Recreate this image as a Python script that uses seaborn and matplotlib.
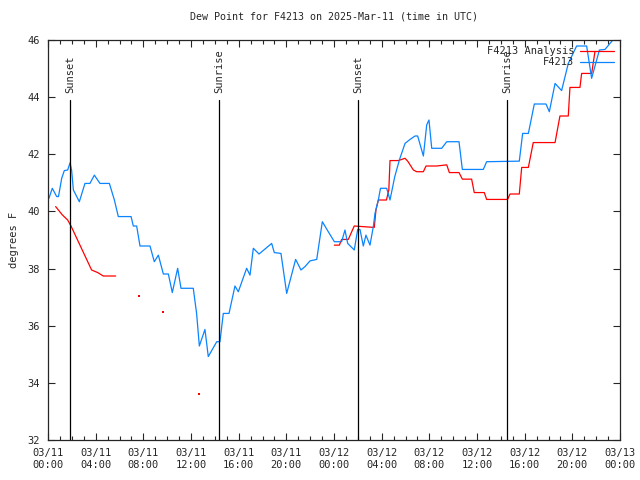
import matplotlib
matplotlib.use("Agg")
import matplotlib.pyplot as plt
import pandas as pd
import seaborn as sns
from matplotlib.ticker import MultipleLocator

# hours since 03/11 00:00 UTC, dew point in F
blue_h = [0.08, 0.36, 0.73, 0.88, 1.15, 1.37, 1.65, 1.85, 1.98, 2.13, 2.63, 3.1, 3.52, 3.89,
          4.36, 5.15, 5.57, 5.9, 6.97, 7.16, 7.44, 7.72, 8.56, 8.92, 9.26, 9.68, 10.1, 10.43,
          10.88, 11.16, 12.19, 12.47, 12.7, 13.17, 13.45, 14.16, 14.43, 14.71, 15.19, 15.69,
          15.97, 16.67, 16.95, 17.23, 17.71, 18.77, 18.99, 19.55, 20.03, 20.78, 21.23, 21.57,
          21.99, 22.55, 23.02, 23.52, 24.03, 24.64, 24.92, 25.15, 25.7, 25.99, 26.18, 26.46,
          26.68, 27.02, 27.3, 27.44, 27.58, 27.72, 27.9, 28.42, 28.7, 29.1, 29.5, 29.96,
          30.38, 30.8, 31.02, 31.5, 31.78, 31.97, 32.2, 33.04, 33.46, 34.49, 34.77, 36.53,
          36.81, 39.55, 39.83, 40.31, 40.81, 41.79, 42.07, 42.55, 43.1, 43.66, 44.36, 45.2,
          45.62, 46.27, 46.74, 47.44]
blue_v = [40.46, 40.81, 40.52, 40.52, 41.16, 41.43, 41.45, 41.7, 41.45, 40.75, 40.34, 40.98,
          40.98, 41.27, 40.98, 40.98, 40.4, 39.82, 39.82, 39.49, 39.49, 38.79, 38.79, 38.24,
          38.47, 37.81, 37.81, 37.16, 38.01, 37.31, 37.31, 36.43, 35.29, 35.87, 34.92, 35.44,
          35.44, 36.43, 36.43, 37.39, 37.19, 38.01, 37.77, 38.71, 38.51, 38.88, 38.56, 38.53,
          37.13, 38.32, 37.95, 38.07, 38.27, 38.32, 39.64, 39.29, 38.94, 38.94, 39.35, 38.88,
          38.65, 39.37, 39.37, 38.79, 39.17, 38.82, 39.47, 39.93, 40.17, 40.4, 40.81, 40.81,
          40.4, 41.22, 41.82, 42.38, 42.52, 42.64, 42.64, 41.94, 43.03, 43.2, 42.21, 42.21,
          42.44, 42.44, 41.47, 41.47, 41.74, 41.76, 42.73, 42.73, 43.76, 43.76, 43.49, 44.48,
          44.23, 45.18, 45.79, 45.79, 44.66, 45.65, 45.67, 46.02]

# analysis series has gaps, so it is kept in pieces
red1_h = [0.64, 1.2, 1.65, 1.93, 3.66, 4.17, 4.64, 5.68]
red1_v = [40.17, 39.88, 39.7, 39.49, 37.95, 37.86, 37.74, 37.74]
red_dot_h = [7.66, 9.68, 12.7]
red_dot_v = [37.04, 36.47, 33.6]
red2_h = [24.03, 24.45, 24.64, 25.2, 25.7, 27.38, 27.52, 27.72, 28.4, 28.6, 28.7, 29.4, 29.96,
          30.2, 30.66, 30.94, 31.5, 31.72, 32.61, 33.46, 33.68, 34.49, 34.77, 35.55, 35.77,
          36.61, 36.81, 38.57, 38.77, 39.55, 39.75, 40.31, 40.72, 42.55, 42.96, 43.66, 43.8,
          44.64, 44.78, 45.62, 45.9]
red2_v = [38.82, 38.82, 39.02, 39.02, 39.49, 39.44, 40.05, 40.4, 40.4, 40.75, 41.78, 41.78,
          41.86, 41.75, 41.45, 41.39, 41.39, 41.59, 41.59, 41.63, 41.36, 41.36, 41.13, 41.13,
          40.66, 40.66, 40.42, 40.42, 40.61, 40.61, 41.54, 41.54, 42.41, 42.41, 43.34, 43.34,
          44.34, 44.34, 44.83, 44.83, 45.6]

sun_h = [1.85, 14.35, 26.01, 38.52]
sun_labels = ["Sunset", "Sunrise", "Sunset", "Sunrise"]

tick_h = list(range(0, 49, 4))
tick_labels = ["03/11\n00:00", "03/11\n04:00", "03/11\n08:00", "03/11\n12:00", "03/11\n16:00",
               "03/11\n20:00", "03/12\n00:00", "03/12\n04:00", "03/12\n08:00", "03/12\n12:00",
               "03/12\n16:00", "03/12\n20:00", "03/13\n00:00"]

blue = pd.DataFrame({"hour": blue_h, "dewpt": blue_v})
red1 = pd.DataFrame({"hour": red1_h, "dewpt": red1_v})
red2 = pd.DataFrame({"hour": red2_h, "dewpt": red2_v})
dots = pd.DataFrame({"hour": red_dot_h, "dewpt": red_dot_v})

sns.set_style("ticks")
plt.rcParams["font.family"] = ["DejaVu Sans Mono"]
plt.rcParams["font.size"] = 7.5

fig = plt.figure(figsize=(6.4, 4.8), dpi=100)
ax = fig.add_axes([48 / 640, 40 / 480, 572 / 640, 400 / 480])

RED = "#ff0000"
BLUE = "#0a84ff"

sns.lineplot(data=red1, x="hour", y="dewpt", ax=ax, color=RED, lw=0.9, label="F4213 Analysis")
sns.lineplot(data=red2, x="hour", y="dewpt", ax=ax, color=RED, lw=0.9)
sns.scatterplot(data=dots, x="hour", y="dewpt", ax=ax, color=RED, s=2, marker="s",
                linewidth=0)
sns.lineplot(data=blue, x="hour", y="dewpt", ax=ax, color=BLUE, lw=0.9, label="F4213")

for h, lab in zip(sun_h, sun_labels):
    ax.plot([h, h], [32, 43.9], color="black", lw=0.9)
    ax.text(h + 0.05, 44.15, lab, rotation=90, ha="center", va="bottom", fontsize=7.5)

ax.set_xlim(0, 48)
ax.set_ylim(32, 46)
ax.set_xticks(tick_h)
ax.set_xticklabels(tick_labels)
ax.xaxis.set_minor_locator(MultipleLocator(1))
ax.set_yticks(range(32, 47, 2))
ax.tick_params(direction="in", top=True, right=True, length=5, width=0.8, pad=6)
ax.tick_params(which="minor", direction="in", top=True, bottom=True, length=3, width=0.8)
for s in ax.spines.values():
    s.set_visible(True)
    s.set_linewidth(0.9)
ax.set_xlabel("")
ax.set_ylabel("degrees F", labelpad=6)
ax.set_title("Dew Point for F4213 on 2025-Mar-11 (time in UTC)", fontsize=7.2, pad=15)

leg = ax.legend(loc="upper right", frameon=False, markerfirst=False, handlelength=3.2,
                borderaxespad=0.2, labelspacing=0.1, handletextpad=0.6, fontsize=7.5)

fig.savefig("out.png", dpi=100)
